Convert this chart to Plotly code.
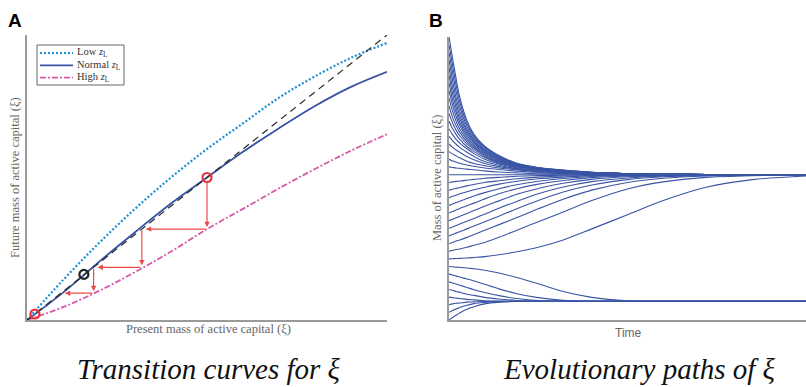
import plotly.graph_objects as go

# ---------------- Panel A data (present xi -> future xi) ----------------
xi_grid = [0, 0.1, 0.2, 0.3, 0.4, 0.5, 0.6, 0.7, 0.8, 0.9, 1.0]
low_zl = [0, 0.14, 0.27, 0.39, 0.50, 0.60, 0.69, 0.78, 0.855, 0.92, 0.972]
high_zl = [0, 0.045, 0.102, 0.168, 0.24, 0.319, 0.39, 0.462, 0.53, 0.594, 0.652]
normal_x = [0, 0.05, 0.1, 0.158, 0.2, 0.3, 0.4, 0.5, 0.6, 0.7, 0.8, 0.9, 1.0]
normal_zl = [0, 0.047, 0.096, 0.158, 0.204, 0.308, 0.409, 0.5, 0.59, 0.673, 0.751, 0.818, 0.871]
identity = [0, 1]
fixed_x = [0.022, 0.158, 0.5]
fixed_y = [0.021, 0.16, 0.5]
fixed_col = ["#e8333a", "#222222", "#e8333a"]
cobweb = [0.5, 0.319, 0.185, 0.094]

# ---------------- Panel B data (paths of xi over time) ----------------
time = [0, 1, 2, 3, 5, 7, 10, 14, 19, 25, 32, 40, 50, 60, 72, 85, 100]
paths = [
    [0.0, 0.009, 0.017, 0.025, 0.038, 0.047, 0.057, 0.063, 0.0655, 0.066, 0.066, 0.066, 0.066, 0.066, 0.066, 0.066, 0.066],
    [0.027, 0.034, 0.039, 0.044, 0.052, 0.058, 0.062, 0.065, 0.066, 0.066, 0.066, 0.066, 0.066, 0.066, 0.066, 0.066, 0.066],
    [0.054, 0.057, 0.059, 0.060, 0.063, 0.064, 0.0655, 0.066, 0.066, 0.066, 0.066, 0.066, 0.066, 0.066, 0.066, 0.066, 0.066],
    [0.081, 0.079, 0.077, 0.076, 0.073, 0.071, 0.068, 0.067, 0.066, 0.066, 0.066, 0.066, 0.066, 0.066, 0.066, 0.066, 0.066],
    [0.108, 0.105, 0.101, 0.098, 0.091, 0.087, 0.080, 0.074, 0.069, 0.067, 0.066, 0.066, 0.066, 0.066, 0.066, 0.066, 0.066],
    [0.135, 0.131, 0.127, 0.123, 0.115, 0.107, 0.097, 0.086, 0.076, 0.069, 0.067, 0.066, 0.066, 0.066, 0.066, 0.066, 0.066],
    [0.162, 0.159, 0.155, 0.152, 0.145, 0.138, 0.126, 0.110, 0.093, 0.079, 0.070, 0.067, 0.066, 0.066, 0.066, 0.066, 0.066],
    [0.189, 0.188, 0.187, 0.186, 0.184, 0.181, 0.176, 0.166, 0.150, 0.128, 0.101, 0.080, 0.068, 0.066, 0.066, 0.066, 0.066],
    [0.216, 0.2166, 0.2172, 0.2178, 0.219, 0.221, 0.224, 0.2304, 0.241, 0.257, 0.283, 0.322, 0.372, 0.422, 0.469, 0.496, 0.509],
    [0.243, 0.246, 0.249, 0.251, 0.257, 0.264, 0.274, 0.292, 0.317, 0.347, 0.382, 0.422, 0.463, 0.488, 0.504, 0.510, 0.5125],
    [0.270, 0.274, 0.279, 0.283, 0.292, 0.302, 0.317, 0.337, 0.362, 0.393, 0.427, 0.459, 0.486, 0.501, 0.509, 0.512, 0.513],
    [0.297, 0.302, 0.307, 0.312, 0.322, 0.332, 0.347, 0.367, 0.393, 0.422, 0.452, 0.477, 0.496, 0.506, 0.511, 0.5125, 0.513],
    [0.324, 0.329, 0.334, 0.339, 0.349, 0.359, 0.374, 0.395, 0.419, 0.446, 0.470, 0.489, 0.502, 0.509, 0.512, 0.513, 0.513],
    [0.351, 0.356, 0.361, 0.366, 0.376, 0.387, 0.402, 0.421, 0.444, 0.465, 0.483, 0.497, 0.506, 0.510, 0.5125, 0.513, 0.513],
    [0.378, 0.383, 0.389, 0.394, 0.404, 0.413, 0.428, 0.446, 0.464, 0.480, 0.493, 0.503, 0.509, 0.512, 0.513, 0.513, 0.513],
    [0.405, 0.410, 0.415, 0.420, 0.429, 0.438, 0.450, 0.464, 0.478, 0.490, 0.500, 0.507, 0.511, 0.5125, 0.513, 0.513, 0.513],
    [0.432, 0.437, 0.441, 0.446, 0.453, 0.460, 0.469, 0.480, 0.490, 0.499, 0.505, 0.510, 0.512, 0.513, 0.513, 0.513, 0.513],
    [0.459, 0.462, 0.465, 0.468, 0.474, 0.479, 0.486, 0.492, 0.499, 0.505, 0.509, 0.511, 0.5125, 0.513, 0.513, 0.513, 0.513],
    [0.486, 0.488, 0.490, 0.491, 0.494, 0.497, 0.501, 0.504, 0.508, 0.510, 0.512, 0.5125, 0.513, 0.513, 0.513, 0.513, 0.513],
    [0.513, 0.513, 0.513, 0.513, 0.513, 0.513, 0.513, 0.513, 0.513, 0.513, 0.513, 0.513, 0.513, 0.513, 0.513, 0.513, 0.513],
    [0.541, 0.539, 0.537, 0.536, 0.533, 0.531, 0.527, 0.523, 0.520, 0.517, 0.516, 0.515, 0.514, 0.513, 0.513, 0.513, 0.513],
    [0.568, 0.562, 0.558, 0.554, 0.548, 0.543, 0.537, 0.532, 0.526, 0.521, 0.518, 0.516, 0.515, 0.514, 0.513, 0.513, 0.513],
    [0.595, 0.587, 0.580, 0.573, 0.561, 0.553, 0.545, 0.537, 0.531, 0.524, 0.519, 0.517, 0.515, 0.514, 0.513, 0.513, 0.513],
    [0.622, 0.610, 0.601, 0.593, 0.578, 0.566, 0.553, 0.542, 0.533, 0.526, 0.520, 0.517, 0.515, 0.514, 0.513, 0.513, 0.513],
    [0.649, 0.634, 0.621, 0.610, 0.593, 0.578, 0.560, 0.547, 0.535, 0.528, 0.521, 0.518, 0.516, 0.514, 0.513, 0.513, 0.513],
    [0.676, 0.655, 0.638, 0.625, 0.605, 0.588, 0.568, 0.551, 0.538, 0.530, 0.523, 0.519, 0.517, 0.515, 0.514, 0.513, 0.513],
    [0.703, 0.676, 0.655, 0.638, 0.613, 0.595, 0.574, 0.554, 0.541, 0.532, 0.524, 0.519, 0.517, 0.515, 0.514, 0.513, 0.513],
    [0.730, 0.696, 0.670, 0.651, 0.622, 0.602, 0.579, 0.557, 0.542, 0.533, 0.525, 0.519, 0.517, 0.515, 0.514, 0.513, 0.513],
    [0.757, 0.716, 0.686, 0.663, 0.630, 0.608, 0.583, 0.559, 0.544, 0.534, 0.525, 0.520, 0.517, 0.515, 0.514, 0.513, 0.513],
    [0.784, 0.738, 0.702, 0.675, 0.638, 0.613, 0.587, 0.562, 0.545, 0.534, 0.526, 0.520, 0.517, 0.515, 0.514, 0.513, 0.513],
    [0.811, 0.759, 0.718, 0.688, 0.645, 0.619, 0.591, 0.564, 0.546, 0.535, 0.526, 0.520, 0.517, 0.515, 0.514, 0.513, 0.513],
    [0.838, 0.778, 0.734, 0.699, 0.653, 0.624, 0.594, 0.567, 0.547, 0.536, 0.527, 0.521, 0.517, 0.515, 0.514, 0.513, 0.513],
    [0.865, 0.799, 0.750, 0.711, 0.660, 0.628, 0.598, 0.569, 0.548, 0.536, 0.527, 0.521, 0.517, 0.515, 0.514, 0.513, 0.513],
    [0.892, 0.821, 0.766, 0.724, 0.668, 0.633, 0.601, 0.571, 0.550, 0.537, 0.528, 0.521, 0.517, 0.515, 0.514, 0.513, 0.513],
    [0.919, 0.847, 0.784, 0.739, 0.675, 0.638, 0.604, 0.574, 0.551, 0.537, 0.528, 0.521, 0.517, 0.515, 0.514, 0.513, 0.513],
    [0.946, 0.874, 0.806, 0.755, 0.685, 0.644, 0.608, 0.576, 0.552, 0.538, 0.529, 0.522, 0.517, 0.515, 0.514, 0.513, 0.513],
    [0.973, 0.900, 0.829, 0.772, 0.695, 0.650, 0.611, 0.579, 0.553, 0.538, 0.529, 0.522, 0.517, 0.515, 0.514, 0.513, 0.513],
    [1.000, 0.925, 0.852, 0.788, 0.705, 0.656, 0.614, 0.581, 0.554, 0.539, 0.530, 0.522, 0.517, 0.515, 0.514, 0.513, 0.513],
]

# ---------------- styling ----------------
W, H = 806, 387
SERIF = "Liberation Serif, DejaVu Serif, serif"
SANS = "Liberation Sans, Arial, sans-serif"
AXIS_GREY = "#9a9a9a"
TEXT_GREY = "#666666"
PATH_BLUE = "#3a54a5"
LOW_COL = "#1d8fd8"
NORM_COL = "#3953a4"
HIGH_COL = "#d65aa9"
ARROW_COL = "#ee4a4a"

fig = go.Figure()

# Panel A curves
fig.add_trace(go.Scatter(x=xi_grid, y=low_zl, mode="lines", line=dict(color=LOW_COL, width=2.2, dash="2px,2px", shape="spline"),
                         xaxis="x", yaxis="y", showlegend=False))
fig.add_trace(go.Scatter(x=xi_grid, y=high_zl, mode="lines", line=dict(color=HIGH_COL, width=1.8, dash="6px,2px,2px,2px", shape="spline"),
                         xaxis="x", yaxis="y", showlegend=False))
fig.add_trace(go.Scatter(x=normal_x, y=normal_zl, mode="lines", line=dict(color=NORM_COL, width=1.8, shape="spline"),
                         xaxis="x", yaxis="y", showlegend=False))
fig.add_trace(go.Scatter(x=identity, y=identity, mode="lines", line=dict(color="#2a2a2a", width=1.2, dash="7px,5px"),
                         xaxis="x", yaxis="y", showlegend=False))
fig.add_trace(go.Scatter(x=fixed_x, y=fixed_y, mode="markers",
                         marker=dict(symbol="circle-open", size=9, line=dict(width=2.2, color=fixed_col), color=fixed_col),
                         xaxis="x", yaxis="y", showlegend=False, cliponaxis=False))

# Cobweb arrows
annotations = []
for i in range(len(cobweb) - 1):
    xa, xb = cobweb[i], cobweb[i + 1]
    # vertical: from identity down to high curve
    annotations.append(dict(x=xa, y=xb, ax=xa, ay=xa, xref="x", yref="y", axref="x", ayref="y",
                            text="", showarrow=True, arrowhead=2, arrowsize=0.9, arrowwidth=1.2,
                            arrowcolor=ARROW_COL, standoff=2, startstandoff=4 if i == 0 else 0))
    # horizontal: from high curve back to identity
    annotations.append(dict(x=xb, y=xb, ax=xa, ay=xb, xref="x", yref="y", axref="x", ayref="y",
                            text="", showarrow=True, arrowhead=2, arrowsize=0.9, arrowwidth=1.2,
                            arrowcolor=ARROW_COL, standoff=4, startstandoff=0))

# Panel B paths
for p in paths:
    fig.add_trace(go.Scatter(x=time, y=p, mode="lines", line=dict(color=PATH_BLUE, width=1.1, shape="spline", smoothing=0.8),
                             xaxis="x2", yaxis="y2", showlegend=False, hoverinfo="skip"))

# Axes domains (pixel-based)
def px_x(p):
    return p / W

def px_y(p):
    return (H - p) / H

axis_common = dict(showgrid=False, zeroline=False, showticklabels=False, ticks="", showline=True,
                   linecolor=AXIS_GREY, linewidth=2, mirror=False, fixedrange=True)

fig.update_layout(
    width=W, height=H, margin=dict(l=0, r=0, t=0, b=0),
    paper_bgcolor="white", plot_bgcolor="white", showlegend=False,
    xaxis=dict(domain=[px_x(27), px_x(387)], range=[0, 1], anchor="y", **axis_common),
    yaxis=dict(domain=[px_y(320), px_y(35)], range=[0, 1], anchor="x", **axis_common),
    xaxis2=dict(domain=[px_x(449), 1.0], range=[0, 100], anchor="y2", **axis_common),
    yaxis2=dict(domain=[px_y(320), px_y(37)], range=[0, 1], anchor="x2", **axis_common),
)

# Manual legend (box, samples, labels)
leg_x0, leg_x1, leg_y0, leg_y1 = 37, 124, 45, 85
shapes = [dict(type="rect", xref="paper", yref="paper", x0=px_x(leg_x0), x1=px_x(leg_x1), y0=px_y(leg_y1), y1=px_y(leg_y0),
               line=dict(color="#666666", width=1), fillcolor="white", layer="above")]
legend_items = [("Low <i>z</i><sub>L</sub>", LOW_COL, "2px,2px", 2.2),
                ("Normal <i>z</i><sub>L</sub>", NORM_COL, "solid", 1.8),
                ("High <i>z</i><sub>L</sub>", HIGH_COL, "6px,2px,2px,2px", 1.8)]
for j, (lab, col, dash, w) in enumerate(legend_items):
    yy = 53 + j * 12.3
    shapes.append(dict(type="line", xref="paper", yref="paper", x0=px_x(40), x1=px_x(73), y0=px_y(yy), y1=px_y(yy),
                       line=dict(color=col, width=w, dash=dash), layer="above"))
    annotations.append(dict(x=px_x(75), y=px_y(yy), xref="paper", yref="paper", text=lab, showarrow=False,
                            xanchor="left", yanchor="middle", font=dict(family=SERIF, size=10.5, color="#333333")))

# Panel letters
annotations.append(dict(x=px_x(15), y=px_y(20), xref="paper", yref="paper", text="<b>A</b>", showarrow=False,
                        xanchor="center", yanchor="middle", font=dict(family=SANS, size=19, color="black")))
annotations.append(dict(x=px_x(436), y=px_y(20), xref="paper", yref="paper", text="<b>B</b>", showarrow=False,
                        xanchor="center", yanchor="middle", font=dict(family=SANS, size=19, color="black")))

# Axis titles
annotations.append(dict(x=px_x(15), y=px_y(178), xref="paper", yref="paper", text="Future mass of active capital (ξ)",
                        textangle=-90, showarrow=False, xanchor="center", yanchor="middle",
                        font=dict(family=SERIF, size=12.5, color=TEXT_GREY)))
annotations.append(dict(x=px_x(208), y=px_y(329), xref="paper", yref="paper", text="Present mass of active capital (ξ)",
                        showarrow=False, xanchor="center", yanchor="middle",
                        font=dict(family=SERIF, size=12.5, color=TEXT_GREY)))
annotations.append(dict(x=px_x(437), y=px_y(178), xref="paper", yref="paper", text="Mass of active capital (ξ)",
                        textangle=-90, showarrow=False, xanchor="center", yanchor="middle",
                        font=dict(family=SERIF, size=12.5, color=TEXT_GREY)))
annotations.append(dict(x=px_x(628), y=px_y(333), xref="paper", yref="paper", text="Time",
                        showarrow=False, xanchor="center", yanchor="middle",
                        font=dict(family=SANS, size=12, color=TEXT_GREY)))

# Panel captions
annotations.append(dict(x=px_x(209), y=px_y(369), xref="paper", yref="paper", text="<i>Transition curves for ξ</i>",
                        showarrow=False, xanchor="center", yanchor="middle",
                        font=dict(family=SERIF, size=29, color="#111111")))
annotations.append(dict(x=px_x(639), y=px_y(369), xref="paper", yref="paper", text="<i>Evolutionary paths of ξ</i>",
                        showarrow=False, xanchor="center", yanchor="middle",
                        font=dict(family=SERIF, size=29, color="#111111")))

fig.update_layout(annotations=annotations, shapes=shapes)
fig.write_html("out.html", config={"displayModeBar": False},
               post_script="document.body.style.margin='0';document.body.style.overflow='hidden';")
